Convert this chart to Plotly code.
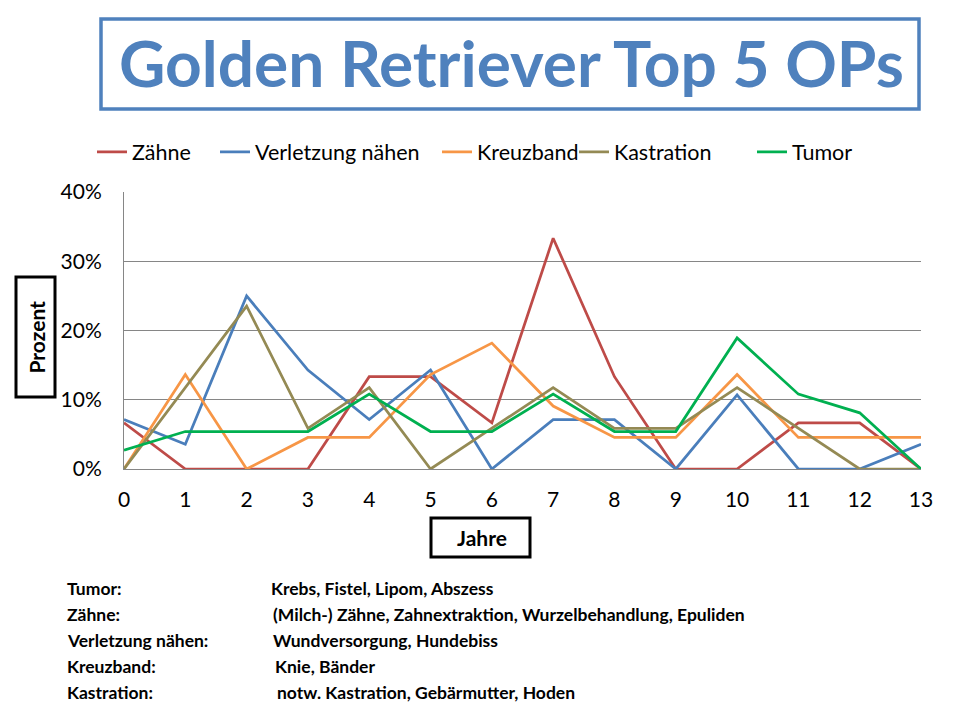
import plotly.graph_objects as go

# Jahre 0..13
years = list(range(14))

# Anteil je Altersjahr
zaehne = [0.0667, 0, 0, 0, 0.1333, 0.1333, 0.0667, 0.3333, 0.1333, 0, 0, 0.0667, 0.0667, 0]
verletzung = [0.0714, 0.0357, 0.25, 0.1429, 0.0714, 0.1429, 0, 0.0714, 0.0714, 0, 0.1071, 0, 0, 0.0357]
kreuzband = [0, 0.1364, 0, 0.0455, 0.0455, 0.1364, 0.1818, 0.0909, 0.0455, 0.0455, 0.1364, 0.0455, 0.0455, 0.0455]
kastration = [0, 0.1176, 0.2353, 0.0588, 0.1176, 0, 0.0588, 0.1176, 0.0588, 0.0588, 0.1176, 0.0588, 0, 0]
tumor = [0.027, 0.0541, 0.0541, 0.0541, 0.1081, 0.0541, 0.0541, 0.1081, 0.0541, 0.0541, 0.1892, 0.1081, 0.0811, 0]

series_names = ['Zähne', 'Verletzung nähen', 'Kreuzband', 'Kastration', 'Tumor']
series_values = [zaehne, verletzung, kreuzband, kastration, tumor]
series_colors = ['#BE4B48', '#4A7EBB', '#F79646', '#948A54', '#00B050']

y_ticks = [0, 0.1, 0.2, 0.3, 0.4]

legend_rows = [
    ('Tumor:', 'Krebs, Fistel, Lipom, Abszess'),
    ('Zähne:', '(Milch-) Zähne, Zahnextraktion, Wurzelbehandlung, Epuliden'),
    ('Verletzung nähen:', 'Wundversorgung, Hundebiss'),
    ('Kreuzband:', 'Knie, Bänder'),
    ('Kastration:', 'notw. Kastration, Gebärmutter, Hoden'),
]

FONT = 'Lato'
OFF = 8  # Seitenrand des Browsers
W, H = 960 - 2 * OFF, 720 - 2 * OFF
L, R, T, B = 124 - OFF, 921 - OFF, 192 - OFF, 469 - OFF


def px_x(p):
    # Seitenpixel -> paper-Koordinate
    return (p - OFF - L) / (R - L)


def px_y(p):
    return (B - (p - OFF)) / (B - T)


fig = go.Figure()
# jede Legende einzeln platziert, damit der Abstand wie im Original ist
legend_x = [92, 215, 437, 574, 752]
for i, (name, vals, col) in enumerate(zip(series_names, series_values, series_colors)):
    fig.add_trace(go.Scatter(
        x=years, y=vals, name=name, mode='lines',
        line=dict(color=col, width=2.75),
        legend='legend' if i == 0 else 'legend%d' % (i + 1),
        hovertemplate='%{x}: %{y:.1%}<extra>' + name + '</extra>'
    ))

legends = {}
for i, lx in enumerate(legend_x):
    key = 'legend' if i == 0 else 'legend%d' % (i + 1)
    legends[key] = dict(orientation='h', x=px_x(lx), y=px_y(152), xanchor='left', yanchor='middle',
                        font=dict(family=FONT, size=21.5, color='black'),
                        itemwidth=30, bgcolor='rgba(0,0,0,0)')

# Titel mit Rahmen
fig.add_shape(type='rect', xref='paper', yref='paper',
              x0=px_x(101), x1=px_x(919), y0=px_y(109), y1=px_y(19),
              line=dict(color='#4F81BD', width=3.5))
fig.add_annotation(text='<b>Golden Retriever Top 5 OPs</b>', xref='paper', yref='paper',
                   x=px_x(511), y=px_y(62), xanchor='center', yanchor='middle', showarrow=False,
                   font=dict(family=FONT, size=64, color='#4F81BD'))

# Achsentitel in Kästen
fig.add_shape(type='rect', xref='paper', yref='paper',
              x0=px_x(16), x1=px_x(55), y0=px_y(397), y1=px_y(277),
              line=dict(color='black', width=3))
fig.add_annotation(text='<b>Prozent</b>', xref='paper', yref='paper',
                   x=px_x(35.5), y=px_y(337), xanchor='center', yanchor='middle',
                   showarrow=False, textangle=-90,
                   font=dict(family=FONT, size=21, color='black'))
fig.add_shape(type='rect', xref='paper', yref='paper',
              x0=px_x(431), x1=px_x(530), y0=px_y(557), y1=px_y(518),
              line=dict(color='black', width=3))
fig.add_annotation(text='<b>Jahre</b>', xref='paper', yref='paper',
                   x=px_x(482), y=px_y(537), xanchor='center', yanchor='middle', showarrow=False,
                   font=dict(family=FONT, size=21, color='black'))

# Erläuterungen unten
for i, (left, right) in enumerate(legend_rows):
    yy = px_y(588 + 26 * i)
    fig.add_annotation(text='<b>' + left + '</b>', xref='paper', yref='paper',
                       x=px_x(65), y=yy, xanchor='left', yanchor='middle', showarrow=False,
                       font=dict(family=FONT, size=17.5, color='black'))
    fig.add_annotation(text='<b>' + right + '</b>', xref='paper', yref='paper',
                       x=px_x(269 + [0, 2, 2, 4, 6][i]), y=yy, xanchor='left', yanchor='middle',
                       showarrow=False,
                       font=dict(family=FONT, size=17.5, color='black'))

fig.update_layout(
    width=W, height=H, autosize=False,
    margin=dict(l=L, r=W - R, t=T, b=H - B, pad=0),
    paper_bgcolor='white', plot_bgcolor='white',
    font=dict(family=FONT, size=21, color='black'),
    showlegend=True,
    hovermode='closest',
    **legends
)
fig.update_xaxes(range=[0, 13], tickvals=years, showgrid=False, zeroline=False,
                 showline=True, linecolor='#868686', linewidth=1,
                 ticks='', ticklabelstandoff=12, tickfont=dict(size=21))
fig.update_yaxes(range=[0, 0.4], tickvals=y_ticks, tickformat='.0%', showgrid=True,
                 gridcolor='#868686', gridwidth=1, zeroline=False,
                 showline=True, linecolor='#868686', linewidth=1,
                 ticks='', ticklabelstandoff=17, tickfont=dict(size=21))

fig.write_html('out.html')
